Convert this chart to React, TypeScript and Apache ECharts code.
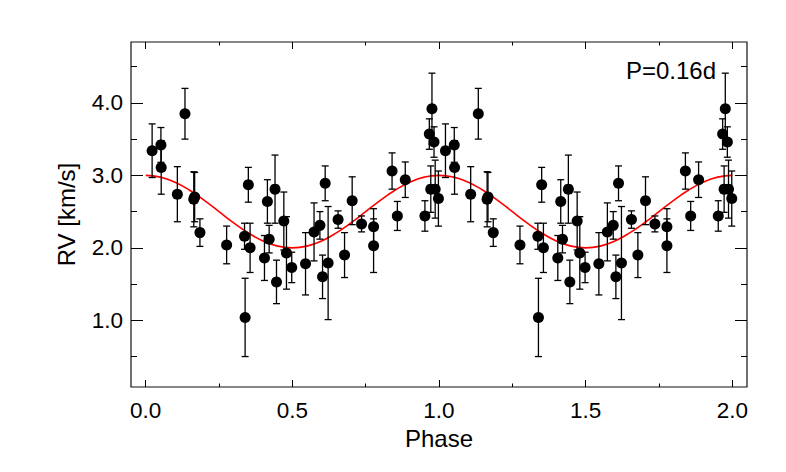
import React, { useEffect, useRef } from 'react';
import * as echarts from 'echarts';

// Observations (phase, RV in km/s, 1-sigma error)
const phases = [
  0.022, 0.052, 0.053, 0.108, 0.134, 0.164, 0.167, 0.185, 0.276, 0.337,
  0.339, 0.350, 0.356, 0.405, 0.415, 0.421, 0.441, 0.446, 0.471, 0.480,
  0.498, 0.545, 0.574, 0.594, 0.603, 0.612, 0.622, 0.656, 0.678, 0.704,
  0.736, 0.777, 0.777, 0.840, 0.858, 0.885, 0.952, 0.967, 0.976, 0.983,
  0.972, 0.987, 0.998,
];
const rvValues = [
  3.34, 3.42, 3.11, 2.74, 3.85, 2.67, 2.70, 2.21, 2.04, 2.16,
  1.04, 2.87, 2.00, 1.86, 2.64, 2.12, 2.81, 1.53, 2.37, 1.93,
  1.73, 1.78, 2.22, 2.31, 1.60, 2.89, 1.79, 2.39, 1.90, 2.65,
  2.33, 2.29, 2.03, 3.06, 2.44, 2.94, 2.44, 3.57, 3.92, 3.46,
  2.81, 2.81, 2.68,
];
const rvErrors = [
  0.37, 0.24, 0.37, 0.38, 0.35, 0.38, 0.34, 0.19, 0.26, 0.18,
  0.54, 0.24, 0.34, 0.31, 0.30, 0.19, 0.47, 0.30, 0.40, 0.50,
  0.21, 0.43, 0.40, 0.19, 0.30, 0.24, 0.78, 0.12, 0.31, 0.33,
  0.11, 0.25, 0.37, 0.25, 0.20, 0.245, 0.21, 0.21, 0.49, 0.21,
  0.32, 0.40, 0.38,
];

// Fitted model curve (one cycle)
const curvePhase = [
  0, 0.05, 0.1, 0.15, 0.2, 0.25, 0.3, 0.35, 0.4, 0.45, 0.5,
  0.55, 0.6, 0.65, 0.7, 0.75, 0.8, 0.85, 0.9, 0.95, 1.0,
];
const curveRv = [
  3.0, 2.976, 2.905, 2.794, 2.655, 2.5, 2.345, 2.206, 2.095, 2.024, 2.0,
  2.024, 2.095, 2.206, 2.345, 2.5, 2.655, 2.794, 2.905, 2.976, 3.0,
];

const xMajorTicks = [0, 0.5, 1.0, 1.5, 2.0];
const xMinorTicks = [0.25, 0.75, 1.25, 1.75];
const yMajorTicks = [1.0, 2.0, 3.0, 4.0];
const yMinorTicks = [0.5, 1.5, 2.5, 3.5, 4.5];

const periodLabel = 'P=0.16d';

const FONT = '"Liberation Sans", Arial, Helvetica, sans-serif';

export default function App() {
  const ref = useRef<HTMLDivElement>(null);

  useEffect(() => {
    if (!ref.current) return;
    const chart = echarts.init(ref.current, undefined, { renderer: 'svg' });

    const cycles = [0, 1];
    const pts: number[][] = [];
    const bars: number[][] = [];
    cycles.forEach((c) => {
      phases.forEach((p, i) => {
        pts.push([p + c, rvValues[i]]);
        bars.push([p + c, rvValues[i] - rvErrors[i], rvValues[i] + rvErrors[i]]);
      });
    });
    const curve: number[][] = [];
    cycles.forEach((c) => {
      curvePhase.forEach((p, i) => {
        if (c > 0 && i === 0) return;
        curve.push([p + c, curveRv[i]]);
      });
    });

    const tickLine = { color: '#000', width: 1 };
    const xBase = {
      type: 'value' as const,
      min: -0.05,
      max: 2.05,
      axisLine: { show: false, onZero: false },
      splitLine: { show: false },
    };
    const yBase = {
      type: 'value' as const,
      min: 0.08,
      max: 4.84,
      axisLine: { show: false, onZero: false },
      splitLine: { show: false },
    };

    const option: any = {
      animation: false,
      backgroundColor: '#fff',
      textStyle: { fontFamily: FONT },
      grid: {
        left: 131,
        top: 42,
        width: 616,
        height: 345,
        show: true,
        borderColor: '#111',
        borderWidth: 1.2,
        backgroundColor: 'transparent',
        containLabel: false,
        outerBoundsMode: 'none',
      },
      xAxis: [
        {
          ...xBase,
          position: 'bottom',
          name: 'Phase',
          nameLocation: 'middle',
          nameGap: 38,
          nameTextStyle: { fontSize: 24, color: '#000', fontFamily: FONT },
          axisTick: { show: true, inside: true, length: 7, customValues: xMajorTicks, lineStyle: tickLine },
          axisLabel: {
            show: true,
            customValues: xMajorTicks,
            formatter: (v: number) => v.toFixed(1),
            margin: 12,
            fontSize: 22.5,
            color: '#000',
            fontFamily: FONT,
          },
        },
        {
          ...xBase,
          position: 'bottom',
          axisTick: { show: true, inside: true, length: 3.5, customValues: xMinorTicks, lineStyle: tickLine },
          axisLabel: { show: false },
        },
        {
          ...xBase,
          position: 'top',
          axisTick: { show: true, inside: true, length: 7, customValues: xMajorTicks, lineStyle: tickLine },
          axisLabel: { show: false },
        },
        {
          ...xBase,
          position: 'top',
          axisTick: { show: true, inside: true, length: 3.5, customValues: xMinorTicks, lineStyle: tickLine },
          axisLabel: { show: false },
        },
      ],
      yAxis: [
        {
          ...yBase,
          position: 'left',
          name: 'RV [km/s]',
          nameLocation: 'middle',
          nameGap: 53,
          nameRotate: 90,
          nameTextStyle: { fontSize: 24, color: '#000', fontFamily: FONT },
          axisTick: { show: true, inside: true, length: 12, customValues: yMajorTicks, lineStyle: tickLine },
          axisLabel: {
            show: true,
            customValues: yMajorTicks,
            formatter: (v: number) => v.toFixed(1),
            margin: 8,
            fontSize: 22.5,
            color: '#000',
            fontFamily: FONT,
          },
        },
        {
          ...yBase,
          position: 'left',
          axisTick: { show: true, inside: true, length: 6, customValues: yMinorTicks, lineStyle: tickLine },
          axisLabel: { show: false },
        },
        {
          ...yBase,
          position: 'right',
          axisTick: { show: true, inside: true, length: 12, customValues: yMajorTicks, lineStyle: tickLine },
          axisLabel: { show: false },
        },
        {
          ...yBase,
          position: 'right',
          axisTick: { show: true, inside: true, length: 6, customValues: yMinorTicks, lineStyle: tickLine },
          axisLabel: { show: false },
        },
      ],
      graphic: [
        {
          type: 'text',
          right: 786 - 716,
          top: 58,
          style: {
            text: periodLabel,
            fontSize: 24,
            fontFamily: FONT,
            fill: '#000',
          },
        },
      ],
      series: [
        {
          type: 'line',
          name: 'fit',
          data: curve,
          smooth: true,
          showSymbol: false,
          symbol: 'none',
          lineStyle: { color: '#ff0000', width: 1.6 },
          z: 1,
          xAxisIndex: 0,
          yAxisIndex: 0,
        },
        {
          type: 'custom',
          name: 'errors',
          data: bars,
          xAxisIndex: 0,
          yAxisIndex: 0,
          encode: { x: 0, y: [1, 2] },
          z: 2,
          renderItem: (params: any, api: any) => {
            const x = api.value(0);
            const lo = api.coord([x, api.value(1)]);
            const hi = api.coord([x, api.value(2)]);
            const w = 3.5;
            const st = { stroke: '#000', lineWidth: 1.3 };
            return {
              type: 'group',
              children: [
                { type: 'line', shape: { x1: lo[0], y1: lo[1], x2: hi[0], y2: hi[1] }, style: st },
                { type: 'line', shape: { x1: lo[0] - w, y1: lo[1], x2: lo[0] + w, y2: lo[1] }, style: st },
                { type: 'line', shape: { x1: hi[0] - w, y1: hi[1], x2: hi[0] + w, y2: hi[1] }, style: st },
              ],
            };
          },
        },
        {
          type: 'scatter',
          name: 'RV',
          data: pts,
          symbol: 'circle',
          symbolSize: 11,
          itemStyle: { color: '#000', opacity: 1 },
          z: 3,
          xAxisIndex: 0,
          yAxisIndex: 0,
        },
      ],
    };

    chart.setOption(option);
    return () => {
      chart.dispose();
    };
  }, []);

  return (
    <div
      ref={ref}
      style={{ position: 'fixed', left: 0, top: 0, width: 786, height: 472, background: '#fff' }}
    />
  );
}
